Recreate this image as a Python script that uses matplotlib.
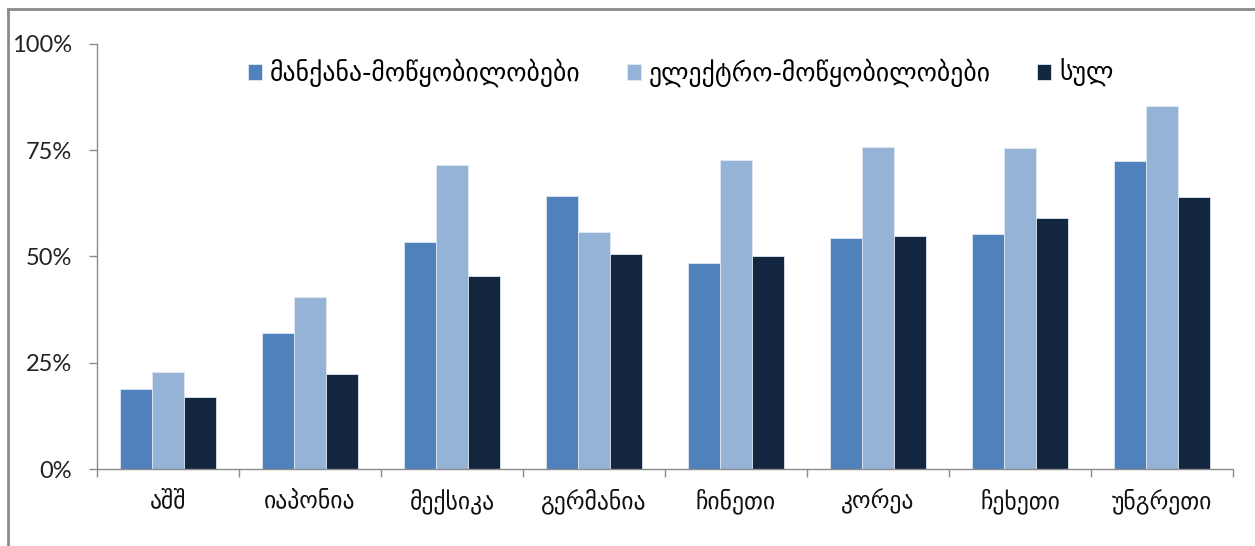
import matplotlib
matplotlib.use("Agg")
import matplotlib.pyplot as plt
import numpy as np
from matplotlib.lines import Line2D
from matplotlib.ticker import FixedLocator, NullFormatter

plt.rcParams['font.family'] = ['Lato', 'DejaVu Sans']

categories = ["აშშ", "იაპონია", "მექსიკა", "გერმანია", "ჩინეთი", "კორეა", "ჩეხეთი", "უნგრეთი"]
series_names = ["მანქანა-მოწყობილობები", "ელექტრო-მოწყობილობები", "სულ"]
machinery = [18.8, 32.0, 53.4, 64.2, 48.5, 54.4, 55.3, 72.5]
electrical = [22.8, 40.5, 71.5, 55.8, 72.7, 75.8, 75.5, 85.4]
total = [16.9, 22.4, 45.4, 50.6, 50.1, 54.8, 59.1, 64.0]
ytick_values = [0, 25, 50, 75, 100]
ytick_labels = ["0%", "25%", "50%", "75%", "100%"]

colors = ["#4F81BD", "#95B3D7", "#13263F"]

fig = plt.figure(figsize=(12.55, 5.46), dpi=100)
ax = fig.add_axes([97/1255, (546-469)/546, (1233-97)/1255, (469-44)/546])

x = np.arange(len(categories))
w = 0.224
for i, (vals, c, name) in enumerate(zip([machinery, electrical, total], colors, series_names)):
    ax.bar(x + (i - 1) * w, vals, width=w, color=c, edgecolor="#dfe8f3", linewidth=0.6, label=name)

ax.set_xlim(-0.5, len(categories) - 0.5)
ax.set_ylim(0, 100)
ax.set_yticks(ytick_values)
ax.set_yticklabels(ytick_labels, fontsize=17, color="#222222")

ax.xaxis.set_major_locator(FixedLocator(x))
ax.set_xticklabels(categories, fontsize=17, family=['DejaVu Sans'], color="#111111")
ax.tick_params(axis='x', which='major', length=0, pad=14)
ax.xaxis.set_minor_locator(FixedLocator(np.arange(-0.5, len(categories) + 0.5, 1.0)))
ax.xaxis.set_minor_formatter(NullFormatter())
ax.tick_params(axis='x', which='minor', length=6, width=1, color="#8c8c8c", direction='out')
ax.tick_params(axis='y', length=6, width=1, color="#8c8c8c", direction='out', pad=12)

for s in ['top', 'right']:
    ax.spines[s].set_visible(False)
for s in ['left', 'bottom']:
    ax.spines[s].set_color("#8c8c8c")
    ax.spines[s].set_linewidth(1)

leg = ax.legend(loc='upper left', bbox_to_anchor=((248-97)/1136, 0.965), ncol=3, frameon=False,
                borderpad=0, borderaxespad=0,
                prop={'family': ['DejaVu Sans'], 'size': 18.5}, handlelength=0.55, handleheight=0.55,
                handletextpad=0.3, columnspacing=1.8)

# outer chart frame (left and top edges visible)
fig.add_artist(Line2D([8/1255, 8/1255], [0, (546-9)/546], transform=fig.transFigure, color="#8a8a8a", linewidth=2))
fig.add_artist(Line2D([8/1255, 1], [(546-9)/546, (546-9)/546], transform=fig.transFigure, color="#8a8a8a", linewidth=2))

fig.savefig("out.png", dpi=100)
